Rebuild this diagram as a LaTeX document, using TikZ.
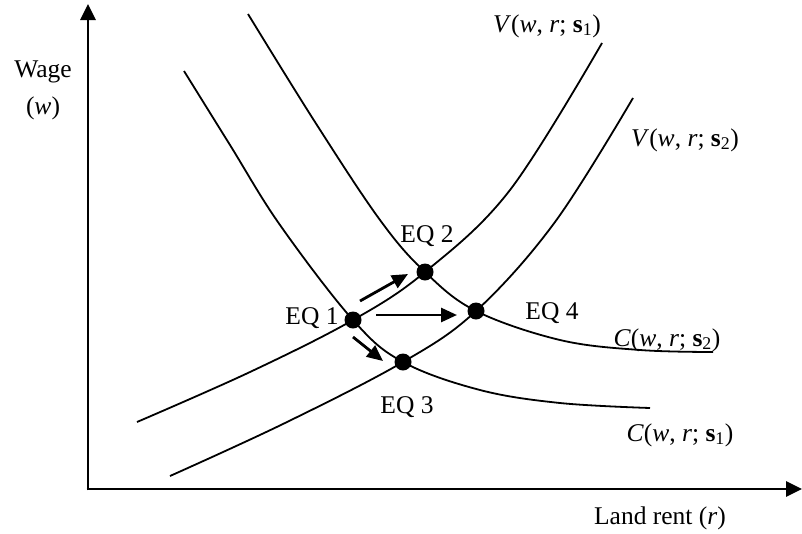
\documentclass[tikz,border=0pt]{standalone}
\usepackage{fontspec}
\setmainfont{Liberation Serif}
\usetikzlibrary{arrows.meta}
\begin{document}
\begin{tikzpicture}[x=1pt,y=-1pt,
  curve/.style={line width=1.8pt},
  axis/.style={line width=2.8pt,-{Triangle[length=16pt,width=15pt]}},
  move/.style={line width=2.8pt,-{Triangle[length=16pt,width=14pt]}},
  dot/.style={circle,fill=black,inner sep=0pt,minimum size=17pt},
  lbl/.style={font=\fontsize{25.5}{30}\selectfont,inner sep=0pt}]
\useasboundingbox (0,0) rectangle (802,533);
% axes
\coordinate (o) at (88,489);
\coordinate (ytip) at (88,4);
\coordinate (xtip) at (802,489);
\draw[axis] ([yshift=-1.4pt]o) -- (ytip);
\draw[axis] ([xshift=-1.4pt]o) -- (xtip);
% curves
\draw[curve] plot[smooth,tension=0.6] coordinates {(137,422) (250,372) (353,320) (425,272) (510,190) (602,43)};
\draw[curve] plot[smooth,tension=0.6] coordinates {(170,476) (285,423) (403,362) (476,311) (555,222) (633,98)};
\draw[curve] plot[smooth,tension=0.6] coordinates {(248,14) (315,122) (380,220) (425,272) (476,311) (560,340) (640,350) (713,352)};
\draw[curve] plot[smooth,tension=0.6] coordinates {(184,71) (230,145) (280,225) (353,320) (403,362) (480,390) (560,403) (650,408)};
% equilibria
\node[dot] (eq1) at (353,320) {};
\node[dot] (eq2) at (425,272) {};
\node[dot] (eq3) at (403,362) {};
\node[dot] (eq4) at (476,311) {};
% shift arrows
\coordinate (a1s) at (360,301);
\coordinate (a1e) at (408,274);
\coordinate (a2s) at (376,315);
\coordinate (a2e) at (457,315);
\coordinate (a3s) at (353,337);
\coordinate (a3e) at (383,361);
\draw[move] (a1s) -- (a1e);
\draw[move] (a2s) -- (a2e);
\draw[move] (a3s) -- (a3e);
% labels
\node[lbl] (wage) at (43,72) {Wage};
\node[lbl] (wlab) at (43,108) {(\textit{w})};
\node[lbl] (v1) at (547,26) {\textit{V}(\textit{w}, \textit{r}; \textbf{s}\textsubscript{1})};
\node[lbl] (v2) at (685,140) {\textit{V}(\textit{w}, \textit{r}; \textbf{s}\textsubscript{2})};
\node[lbl] (c2) at (667,340) {\textit{C}(\textit{w}, \textit{r}; \textbf{s}\textsubscript{2})};
\node[lbl] (c1) at (680,435) {\textit{C}(\textit{w}, \textit{r}; \textbf{s}\textsubscript{1})};
\node[lbl] (rent) at (660,518) {Land rent (\textit{r})};
\node[lbl] (l1) at (312,318) {EQ 1};
\node[lbl] (l2) at (427,236) {EQ 2};
\node[lbl] (l3) at (407,407) {EQ 3};
\node[lbl] (l4) at (552,313) {EQ 4};
\end{tikzpicture}
\end{document}
